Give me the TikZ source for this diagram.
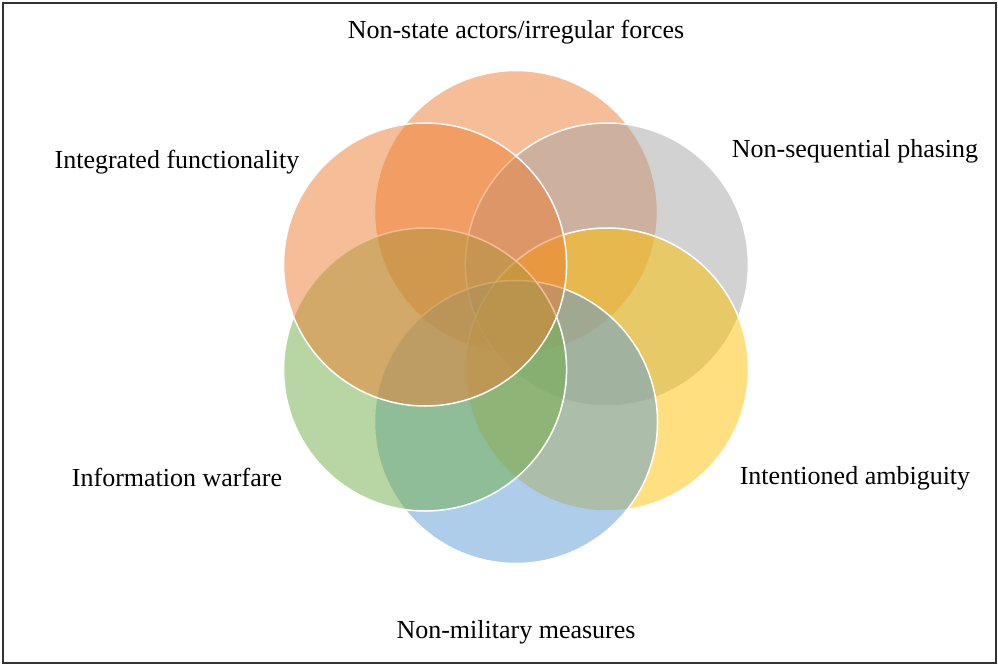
\documentclass[tikz,border=0pt]{standalone}
\usepackage{fontspec}
\setmainfont{Liberation Serif}
\usetikzlibrary{positioning,calc}
\definecolor{accorange}{HTML}{ED7D31}
\definecolor{accgray}{HTML}{A5A5A5}
\definecolor{accgold}{HTML}{FFC000}
\definecolor{accblue}{HTML}{5B9BD5}
\definecolor{accgreen}{HTML}{70AD47}
\tikzset{
  venn/.style={circle, minimum size=283pt, inner sep=0pt, draw=white,
    line width=1.5pt, fill=#1, fill opacity=0.5},
  lbl/.style={font=\fontsize{26}{30}\selectfont, text=black, inner sep=0pt}
}

\begin{document}
\begin{tikzpicture}[x=1pt,y=-1pt]
   \useasboundingbox (0,0) rectangle (998,666);
   \draw[line width=1.3pt, black!80] (3,3) rectangle (996,663);

   \coordinate (c0) at (516,317);

   % circles, clockwise from the top
   \foreach \ang/\col/\nm in {-90/accorange/ctop, -30/accgray/cur,
      30/accgold/clr, 90/accblue/cbot, 150/accgreen/cll, 210/accorange/cul}
      \node[venn=\col] (\nm) at ($(c0)+(\ang:105)$) {};

   % labels
   \node[lbl] (lnonstate) at (516,32)  {Non-state actors/irregular forces};
   \node[lbl] (lphasing)  at (855,151) {Non-sequential phasing};
   \node[lbl] (lambig)    at (855,478) {Intentioned ambiguity};
   \node[lbl] (lmilit)    at (516,632) {Non-military measures};
   \node[lbl] (linfo)     at (177,477) {Information warfare};
   \node[lbl] (lfunc)     at (177,162) {Integrated functionality};
\end{tikzpicture}
\end{document}
